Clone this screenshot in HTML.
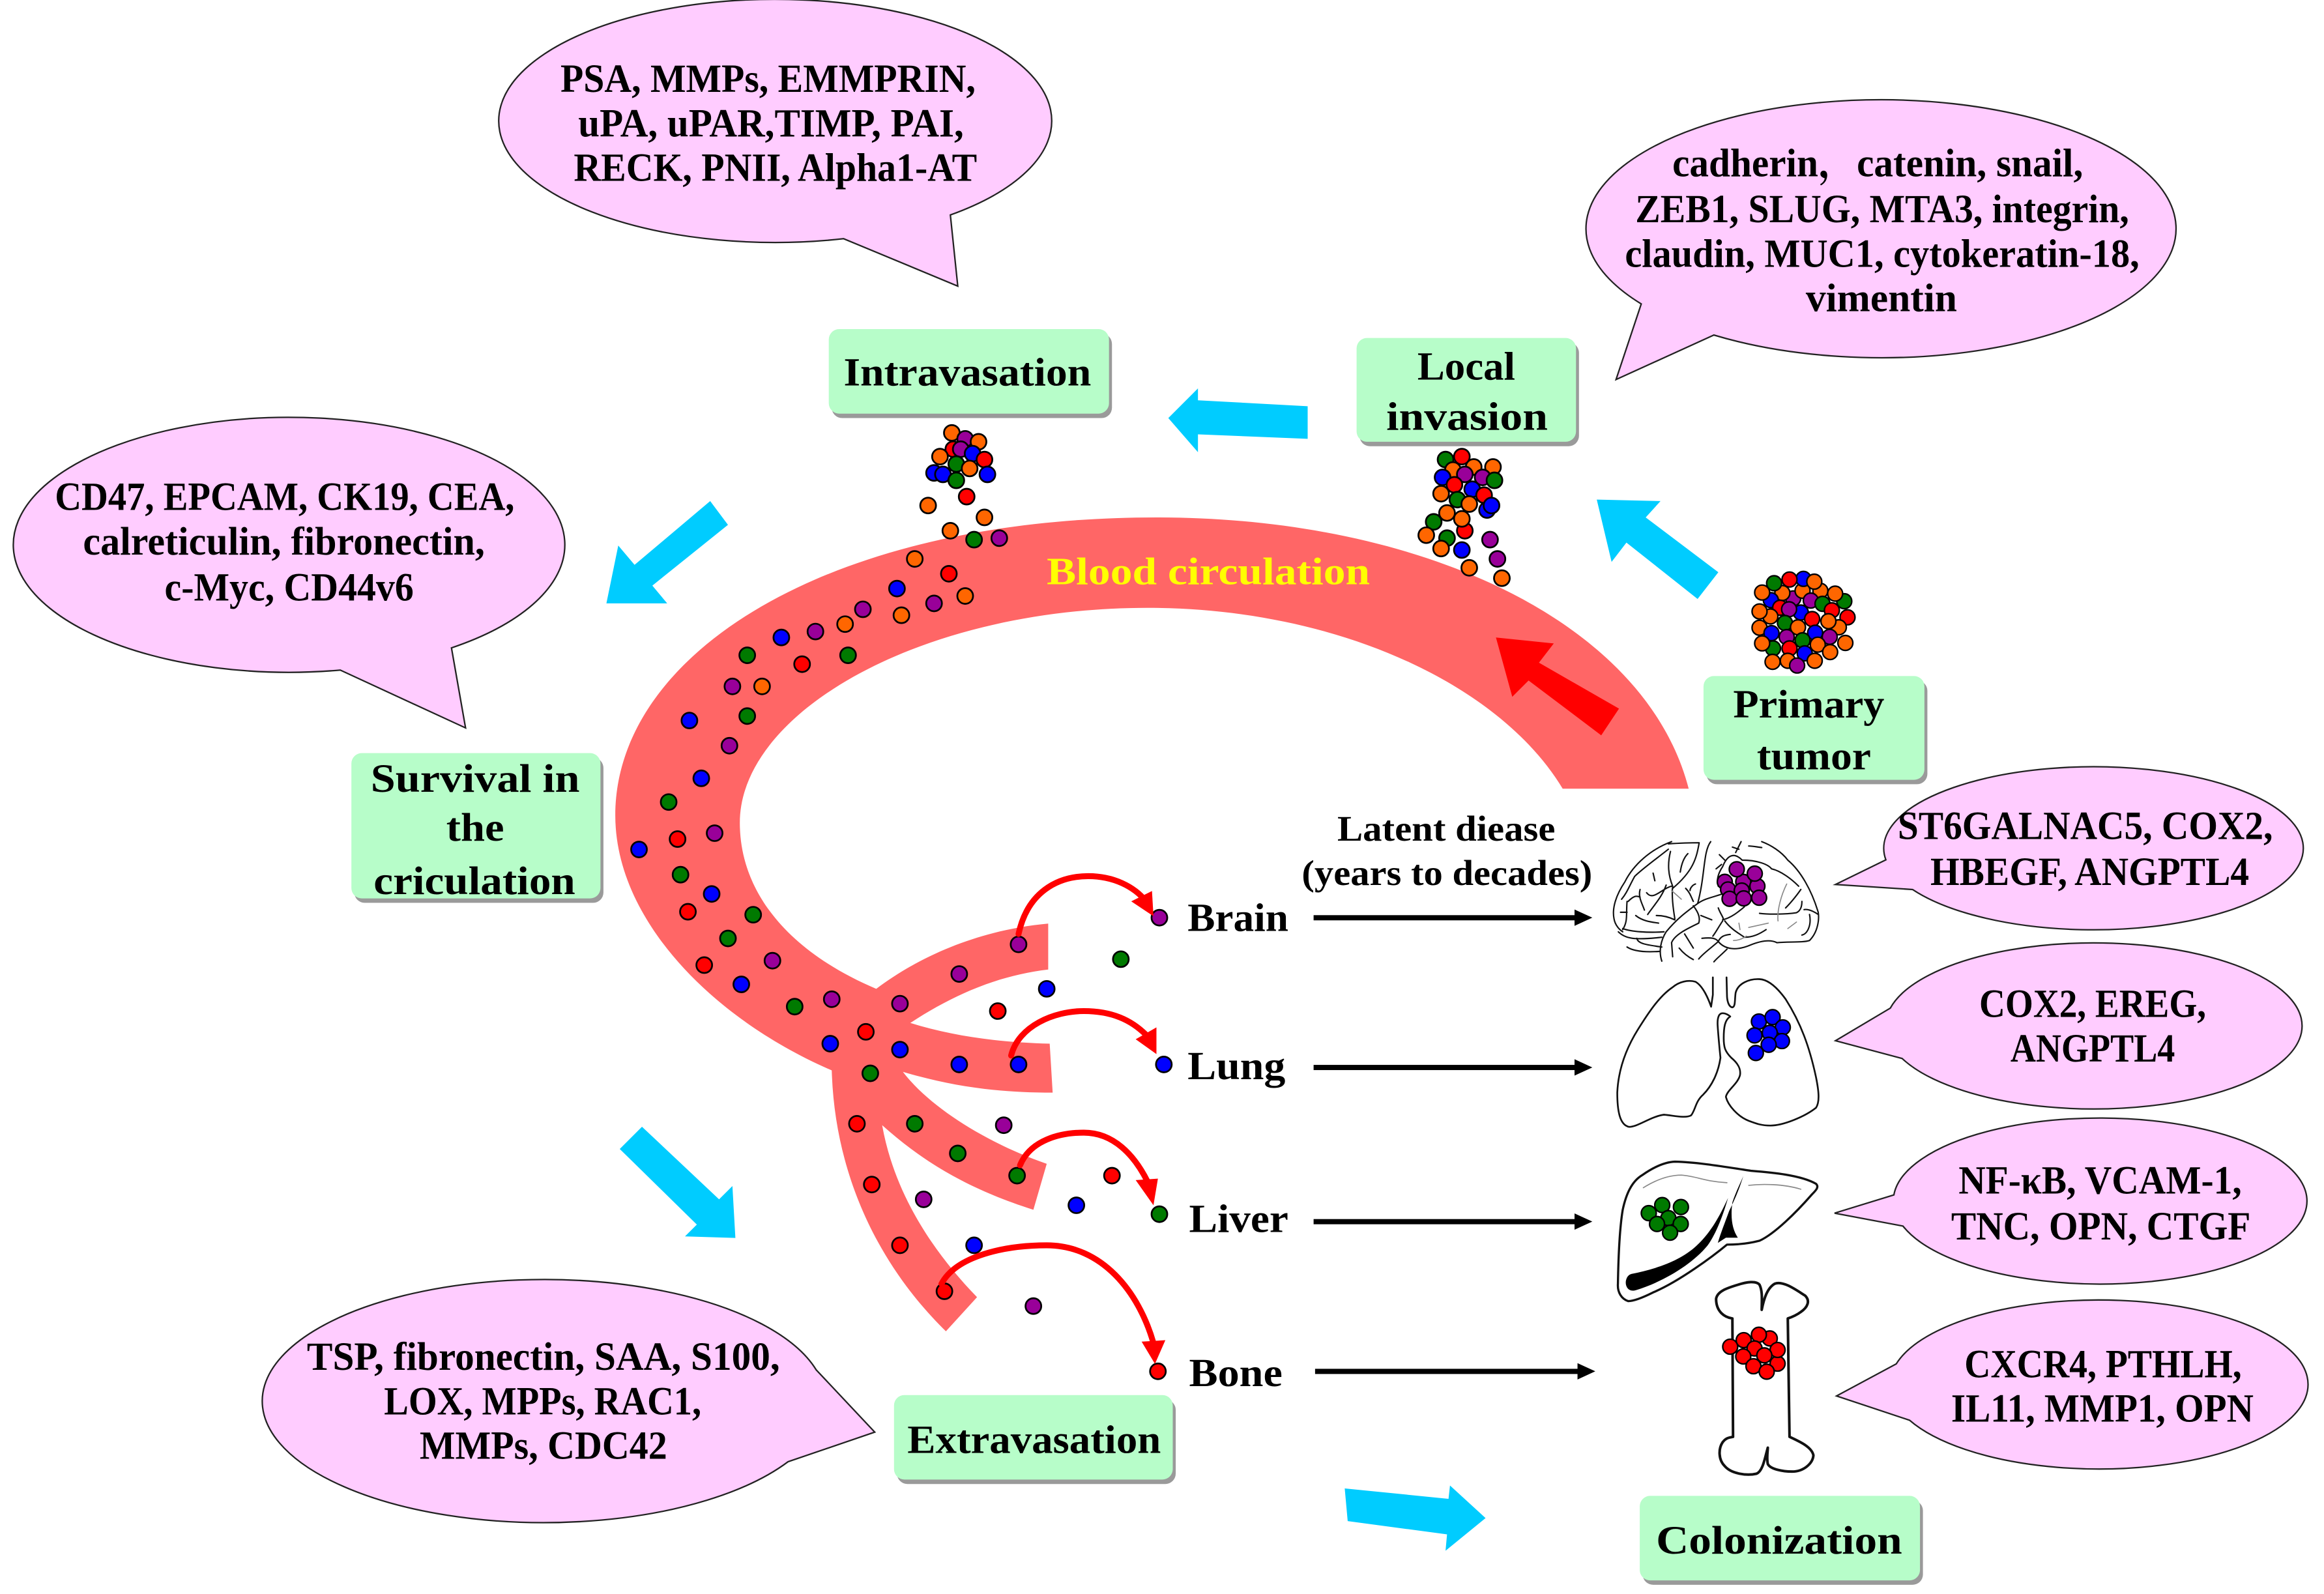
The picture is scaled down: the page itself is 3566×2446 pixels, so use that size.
<!DOCTYPE html>
<html><head><meta charset="utf-8"><title>Metastasis diagram</title>
<style>
html,body{margin:0;padding:0;background:#fff}
svg{display:block}
text{font-family:"Liberation Serif","Noto Serif CJK SC",serif;font-weight:bold;font-size:27px;fill:#000}
.b{fill:#ffccff;stroke:#222;stroke-width:1}
.g{fill:#b7fdc9}.s{fill:#9a9a9a}
.c{fill:#00ccff}
.d circle{stroke:#000;stroke-width:1.2}
.t circle,.k circle{stroke:#000;stroke-width:7px;r:34.5px}
.o{fill:#ff6600}.p{fill:#990099}.n{fill:#007a00}.u{fill:#0000ff}.r{fill:#ff0000}
.ln{fill:none;stroke:#111;stroke-width:6.5;stroke-linecap:round;stroke-linejoin:round}
.ol{fill:none;stroke:#111;stroke-width:8;stroke-linecap:round;stroke-linejoin:round}
.gy{fill:none;stroke:#888;stroke-width:5;stroke-linecap:round}
.ra{fill:none;stroke:#ff0000;stroke-width:4;stroke-linecap:round}
</style></head><body>
<svg width="3566" height="2446" viewBox="0 0 1567.5 1075.2" xmlns="http://www.w3.org/2000/svg">
<rect width="1567.5" height="1075.2" fill="#fff"/>

<!-- vessel -->
<path fill="#ff6666" d="M1139,532 C1110,420 960,349 780,349 C560,349 415,440 415,550 C415,620 480,687 561,722 C563,793 593,854 638,898 L659,875 C628,843 603,804 595,759 C623,784 653,802 697,816 L706,785 C668,772 628,748 609,723 C643,733 673,737 710,737 L708,704 C673,703 643,699 614,690 C643,671 673,658 707,654 L707,623 C663,627 623,643 591,667 C532,642 499,602 499,555 C499,480 622,410 774,410 C902,410 1012,462 1054,532 Z"/>
<polygon class="r" points="1009,430 1048,434 1038,447 1092,478 1080,496 1031,459 1020,470"/>
<text x="706" y="394" textLength="218" lengthAdjust="spacingAndGlyphs" style="fill:#ffff00;font-size:26px">Blood circulation</text>

<!-- bubbles -->
<path class="b" d="M569,161 A186.5,82 0 1 1 641,145 L646,193 Z"/>
<path class="b" d="M1107,205 A199,87 0 1 1 1156,226 L1090,256 Z"/>
<path class="b" d="M229.5,452 A186,86 0 1 1 304.5,437 L314,491 Z"/>
<path class="b" d="M531.5,986 A190,82 0 1 1 550.5,924 L590,966 Z"/>
<path class="b" d="M1272,580 A141.5,55 0 1 1 1290,600 L1238,596.6 Z"/>
<path class="b" d="M1275,680 A140.5,56 0 1 1 1283,714 L1238,702 Z"/>
<path class="b" d="M1277.4,806 A139.5,56 0 1 1 1283.5,827 L1237.4,818.3 Z"/>
<path class="b" d="M1279,920 A141,57 0 1 1 1288,958 L1238.7,941.6 Z"/>

<text x="378" y="62" textLength="280" lengthAdjust="spacingAndGlyphs">PSA, MMPs, EMMPRIN,</text>
<text x="390" y="92" textLength="260" lengthAdjust="spacingAndGlyphs">uPA, uPAR,TIMP, PAI,</text>
<text x="387" y="122" textLength="272" lengthAdjust="spacingAndGlyphs">RECK, PNII, Alpha1-AT</text>
<text x="1128" y="119" textLength="277" lengthAdjust="spacingAndGlyphs">cadherin，catenin, snail,</text>
<text x="1103" y="150" textLength="333" lengthAdjust="spacingAndGlyphs">ZEB1, SLUG, MTA3, integrin,</text>
<text x="1096" y="180" textLength="347" lengthAdjust="spacingAndGlyphs">claudin, MUC1, cytokeratin-18,</text>
<text x="1218" y="210" textLength="102" lengthAdjust="spacingAndGlyphs">vimentin</text>
<text x="37" y="344" textLength="310" lengthAdjust="spacingAndGlyphs">CD47, EPCAM, CK19, CEA,</text>
<text x="56" y="374" textLength="271" lengthAdjust="spacingAndGlyphs">calreticulin, fibronectin,</text>
<text x="111" y="405" textLength="168" lengthAdjust="spacingAndGlyphs">c-Myc, CD44v6</text>
<text x="207" y="924" textLength="319" lengthAdjust="spacingAndGlyphs">TSP, fibronectin, SAA, S100,</text>
<text x="259" y="954" textLength="214" lengthAdjust="spacingAndGlyphs">LOX, MPPs, RAC1,</text>
<text x="283" y="984" textLength="167" lengthAdjust="spacingAndGlyphs">MMPs, CDC42</text>
<text x="1280" y="566" textLength="253" lengthAdjust="spacingAndGlyphs">ST6GALNAC5, COX2,</text>
<text x="1302" y="597" textLength="215" lengthAdjust="spacingAndGlyphs">HBEGF, ANGPTL4</text>
<text x="1335" y="686" textLength="153" lengthAdjust="spacingAndGlyphs">COX2, EREG,</text>
<text x="1356" y="716" textLength="111" lengthAdjust="spacingAndGlyphs">ANGPTL4</text>
<text x="1321" y="805" textLength="191" lengthAdjust="spacingAndGlyphs">NF-κB, VCAM-1,</text>
<text x="1316" y="836" textLength="202" lengthAdjust="spacingAndGlyphs">TNC, OPN, CTGF</text>
<text x="1325" y="929" textLength="187" lengthAdjust="spacingAndGlyphs">CXCR4, PTHLH,</text>
<text x="1316" y="959" textLength="204" lengthAdjust="spacingAndGlyphs">IL11, MMP1, OPN</text>

<!-- green boxes -->
<rect class="s" x="561" y="225" width="189" height="57" rx="7"/><rect class="g" x="559" y="222" width="189" height="57" rx="7"/>
<rect class="s" x="917" y="231" width="148" height="70" rx="7"/><rect class="g" x="915" y="228" width="148" height="70" rx="7"/>
<rect class="s" x="1151" y="459" width="149" height="70" rx="7"/><rect class="g" x="1149" y="456" width="149" height="70" rx="7"/>
<rect class="s" x="239" y="511" width="168" height="98" rx="7"/><rect class="g" x="237" y="508" width="168" height="98" rx="7"/>
<rect class="s" x="605" y="944" width="188" height="57" rx="7"/><rect class="g" x="603" y="941" width="188" height="57" rx="7"/>
<rect class="s" x="1108" y="1012" width="189" height="57" rx="7"/><rect class="g" x="1106" y="1009" width="189" height="57" rx="7"/>
<text x="569" y="260" textLength="167" lengthAdjust="spacingAndGlyphs">Intravasation</text>
<text x="956" y="256" textLength="66" lengthAdjust="spacingAndGlyphs">Local</text>
<text x="935" y="290" textLength="109" lengthAdjust="spacingAndGlyphs">invasion</text>
<text x="1169" y="484" textLength="102" lengthAdjust="spacingAndGlyphs">Primary</text>
<text x="1185" y="519" textLength="77" lengthAdjust="spacingAndGlyphs">tumor</text>
<text x="250" y="534" textLength="141" lengthAdjust="spacingAndGlyphs">Survival in</text>
<text x="301" y="567" textLength="39" lengthAdjust="spacingAndGlyphs">the</text>
<text x="252" y="603" textLength="136" lengthAdjust="spacingAndGlyphs">criculation</text>
<text x="612" y="980" textLength="171" lengthAdjust="spacingAndGlyphs">Extravasation</text>
<text x="1117" y="1048" textLength="166" lengthAdjust="spacingAndGlyphs">Colonization</text>

<!-- cyan arrows -->
<polygon class="c" points="788,282 808,262 808,270 882,274 882,296 808,293 808,305"/>
<polygon class="c" points="1077,337 1120,338 1110,349 1159,386 1145,404 1097,366 1087,379"/>
<polygon class="c" points="409,407 417,368 428,381 479,338 491,354 440,395 450,407"/>
<polygon class="c" points="433,760 418,775 470,826 462,834 496,835 494,800 485,809"/>
<polygon class="c" points="907,1004 977,1011 978,1002 1002,1024 975,1046 976,1035 909,1026"/>

<!-- labels -->
<text x="801" y="628" textLength="68" lengthAdjust="spacingAndGlyphs">Brain</text>
<text x="801" y="728" textLength="66" lengthAdjust="spacingAndGlyphs">Lung</text>
<text x="802" y="831" textLength="67" lengthAdjust="spacingAndGlyphs">Liver</text>
<text x="802" y="935" textLength="63" lengthAdjust="spacingAndGlyphs">Bone</text>
<text x="902" y="567" textLength="147" lengthAdjust="spacingAndGlyphs" style="font-size:24px">Latent diease</text>
<text x="878" y="597" textLength="196" lengthAdjust="spacingAndGlyphs" style="font-size:24px">(years to decades)</text>

<!-- black arrows -->
<g fill="#000">
<rect x="886" y="617.3" width="178" height="3.5"/><polygon points="1062,613.5 1074,619 1062,624.5"/>
<rect x="886" y="718.3" width="178" height="3.5"/><polygon points="1062,714.5 1074,720 1062,725.5"/>
<rect x="886" y="822.3" width="178" height="3.5"/><polygon points="1062,818.5 1074,824 1062,829.5"/>
<rect x="887" y="923.3" width="178" height="3.5"/><polygon points="1064,919.5 1076,925 1064,930.5"/>
</g>

<!-- dots -->
<g class="d">
<circle class="o" cx="642" cy="292" r="5.3"/><circle class="p" cx="651" cy="296" r="5.3"/><circle class="o" cx="660" cy="298" r="5.3"/><circle class="r" cx="643" cy="303" r="5.3"/><circle class="p" cx="648" cy="303" r="5.3"/><circle class="u" cx="656" cy="306" r="5.3"/><circle class="o" cx="634" cy="308" r="5.3"/><circle class="r" cx="664" cy="310" r="5.3"/><circle class="n" cx="645" cy="313" r="5.3"/><circle class="o" cx="654" cy="316" r="5.3"/><circle class="u" cx="630" cy="319" r="5.3"/><circle class="u" cx="636" cy="320" r="5.3"/><circle class="u" cx="666" cy="320" r="5.3"/><circle class="n" cx="645" cy="324" r="5.3"/><circle class="r" cx="652" cy="335" r="5.3"/>
<circle class="o" cx="626" cy="341" r="5.3"/><circle class="o" cx="664" cy="349" r="5.3"/><circle class="o" cx="641" cy="358" r="5.3"/><circle class="n" cx="657" cy="364" r="5.3"/><circle class="p" cx="674" cy="363" r="5.3"/>
<circle class="o" cx="617" cy="377" r="5.3"/><circle class="r" cx="640" cy="387" r="5.3"/><circle class="u" cx="605" cy="397" r="5.3"/><circle class="o" cx="651" cy="402" r="5.3"/><circle class="p" cx="630" cy="407" r="5.3"/><circle class="o" cx="608" cy="415" r="5.3"/><circle class="p" cx="582" cy="411" r="5.3"/><circle class="o" cx="570" cy="421" r="5.3"/><circle class="p" cx="550" cy="426" r="5.3"/><circle class="u" cx="527" cy="430" r="5.3"/><circle class="n" cx="572" cy="442" r="5.3"/><circle class="r" cx="541" cy="448" r="5.3"/>

<circle class="n" cx="975" cy="310" r="5.3"/><circle class="r" cx="986" cy="308" r="5.3"/><circle class="o" cx="980" cy="317" r="5.3"/><circle class="o" cx="994" cy="315" r="5.3"/><circle class="o" cx="1007" cy="315" r="5.3"/><circle class="u" cx="973" cy="322" r="5.3"/><circle class="p" cx="988" cy="320" r="5.3"/><circle class="p" cx="1000" cy="322" r="5.3"/><circle class="n" cx="1008" cy="324" r="5.3"/><circle class="r" cx="981" cy="327" r="5.3"/><circle class="u" cx="993" cy="330" r="5.3"/><circle class="o" cx="972" cy="333" r="5.3"/><circle class="r" cx="1001" cy="334" r="5.3"/><circle class="n" cx="983" cy="337" r="5.3"/><circle class="o" cx="991" cy="340" r="5.3"/><circle class="u" cx="1003" cy="344" r="5.3"/><circle class="u" cx="1006" cy="341" r="5.3"/><circle class="o" cx="976" cy="346" r="5.3"/><circle class="r" cx="988" cy="358" r="5.3"/><circle class="n" cx="967" cy="352" r="5.3"/><circle class="o" cx="986" cy="350" r="5.3"/><circle class="n" cx="976" cy="363" r="5.3"/><circle class="o" cx="962" cy="361" r="5.3"/><circle class="o" cx="972" cy="370" r="5.3"/><circle class="u" cx="986" cy="371" r="5.3"/><circle class="p" cx="1005" cy="364" r="5.3"/><circle class="p" cx="1010" cy="377" r="5.3"/><circle class="o" cx="991" cy="383" r="5.3"/><circle class="o" cx="1013" cy="390" r="5.3"/>

<circle class="n" cx="504" cy="442" r="5.3"/><circle class="p" cx="494" cy="463" r="5.3"/><circle class="o" cx="514" cy="463" r="5.3"/><circle class="u" cx="465" cy="486" r="5.3"/><circle class="n" cx="504" cy="483" r="5.3"/><circle class="p" cx="492" cy="503" r="5.3"/><circle class="u" cx="473" cy="525" r="5.3"/><circle class="n" cx="451" cy="541" r="5.3"/><circle class="p" cx="482" cy="562" r="5.3"/><circle class="r" cx="457" cy="566" r="5.3"/><circle class="u" cx="431" cy="573" r="5.3"/><circle class="n" cx="459" cy="590" r="5.3"/><circle class="u" cx="480" cy="603" r="5.3"/><circle class="r" cx="464" cy="615" r="5.3"/><circle class="n" cx="508" cy="617" r="5.3"/><circle class="n" cx="491" cy="633" r="5.3"/><circle class="p" cx="521" cy="648" r="5.3"/><circle class="r" cx="475" cy="651" r="5.3"/><circle class="u" cx="500" cy="664" r="5.3"/><circle class="n" cx="536" cy="679" r="5.3"/><circle class="p" cx="561" cy="674" r="5.3"/><circle class="p" cx="607" cy="677" r="5.3"/><circle class="r" cx="584" cy="696" r="5.3"/><circle class="u" cx="560" cy="704" r="5.3"/><circle class="u" cx="607" cy="708" r="5.3"/><circle class="n" cx="587" cy="724" r="5.3"/><circle class="u" cx="647" cy="718" r="5.3"/><circle class="u" cx="687" cy="718" r="5.3"/><circle class="u" cx="785" cy="718" r="5.3"/>
<circle class="p" cx="647" cy="657" r="5.3"/><circle class="p" cx="687" cy="637" r="5.3"/><circle class="p" cx="782" cy="619" r="5.3"/><circle class="n" cx="756" cy="647" r="5.3"/><circle class="u" cx="706" cy="667" r="5.3"/><circle class="r" cx="673" cy="682" r="5.3"/><circle class="p" cx="677" cy="759" r="5.3"/><circle class="r" cx="578" cy="758" r="5.3"/><circle class="n" cx="617" cy="758" r="5.3"/><circle class="n" cx="646" cy="778" r="5.3"/><circle class="n" cx="686" cy="793" r="5.3"/><circle class="r" cx="750" cy="793" r="5.3"/><circle class="n" cx="782" cy="819" r="5.3"/><circle class="u" cx="726" cy="813" r="5.3"/><circle class="p" cx="623" cy="809" r="5.3"/><circle class="r" cx="588" cy="799" r="5.3"/><circle class="r" cx="607" cy="840" r="5.3"/><circle class="u" cx="657" cy="840" r="5.3"/><circle class="r" cx="637" cy="871" r="5.3"/><circle class="p" cx="697" cy="881" r="5.3"/><circle class="r" cx="781" cy="925" r="5.3"/>
</g>

<!-- red curved arrows -->
<path class="ra" d="M687,630 C693,602 713,591 734,591 C751,591 765,598 773,608"/>
<polygon class="r" points="778,618 777,601 763,608"/>
<path class="ra" d="M682,712 C687,692 711,682 731,682 C750,682 763,688 773,698"/>
<polygon class="r" points="780,711 780,693 766,701"/>
<path class="ra" d="M688,786 C695,769 715,764 731,764 C751,764 765,779 774,797"/>
<polygon class="r" points="778,813 781,795 766,796"/>
<path class="ra" d="M635,866 C645,847 678,840 706,840 C743,840 768,871 778,906"/>
<polygon class="r" points="779,920 786,904 770,905"/>

<!-- primary tumor -->
<g class="t" transform="translate(1178,378) scale(.14652)">
<circle class="p" cx="215" cy="175" r="33"/><circle class="o" cx="340" cy="140" r="33"/><circle class="n" cx="450" cy="188" r="33"/><circle class="o" cx="165" cy="150" r="33"/><circle class="o" cx="258" cy="140" r="33"/><circle class="u" cx="262" cy="85" r="33"/><circle class="u" cx="112" cy="183" r="33"/><circle class="n" cx="127" cy="105" r="33"/><circle class="r" cx="198" cy="88" r="33"/><circle class="o" cx="312" cy="98" r="33"/><circle class="o" cx="72" cy="148" r="33"/><circle class="o" cx="408" cy="153" r="33"/><circle class="p" cx="296" cy="185" r="33"/><circle class="n" cx="350" cy="200" r="33"/><circle class="r" cx="155" cy="218" r="33"/><circle class="o" cx="110" cy="258" r="33"/><circle class="o" cx="60" cy="235" r="33"/><circle class="u" cx="250" cy="240" r="33"/><circle class="p" cx="196" cy="225" r="33"/><circle class="r" cx="393" cy="230" r="33"/><circle class="r" cx="465" cy="262" r="33"/><circle class="o" cx="425" cy="308" r="33"/><circle class="o" cx="377" cy="280" r="33"/><circle class="n" cx="177" cy="288" r="33"/><circle class="r" cx="302" cy="270" r="33"/><circle class="o" cx="60" cy="310" r="33"/><circle class="o" cx="237" cy="308" r="33"/><circle class="u" cx="115" cy="335" r="33"/><circle class="u" cx="316" cy="333" r="33"/><circle class="p" cx="383" cy="352" r="33"/><circle class="p" cx="185" cy="353" r="33"/><circle class="n" cx="258" cy="368" r="33"/><circle class="n" cx="122" cy="405" r="33"/><circle class="o" cx="72" cy="382" r="33"/><circle class="o" cx="455" cy="380" r="33"/><circle class="r" cx="198" cy="405" r="33"/><circle class="o" cx="328" cy="388" r="33"/><circle class="o" cx="385" cy="422" r="33"/><circle class="u" cx="268" cy="428" r="33"/><circle class="o" cx="190" cy="462" r="33"/><circle class="o" cx="120" cy="467" r="33"/><circle class="o" cx="314" cy="462" r="33"/><circle class="p" cx="233" cy="484" r="33"/>
</g>

<!-- brain -->
<g transform="translate(1085.7,558.2) scale(.14652)">
<path class="ln" d="M285,65 C190,100 110,170 70,250 C30,310 10,370 20,420 C25,450 45,470 60,480 M270,100 C220,140 150,190 115,225 C90,270 80,300 55,330 M270,75 C320,72 370,70 412,70 C400,140 385,200 290,280 M280,110 C265,170 270,220 290,270 C285,310 290,360 300,420 M360,120 C340,140 330,170 325,205 M465,65 C430,110 440,220 405,350 M60,465 C100,480 180,485 250,480 M40,480 C70,510 110,520 240,505 M125,510 C130,535 170,540 240,550 M80,550 C110,570 160,575 230,570 M405,350 C350,390 310,420 260,480 C235,520 225,570 240,615 M385,360 C400,380 420,410 410,440 C370,460 300,490 285,530 L290,595 M405,350 C440,325 480,320 520,305 M500,370 C510,400 530,420 520,425 C560,415 590,390 620,365 M530,430 C560,470 600,490 620,505 C660,505 690,490 720,470 M520,430 C500,460 490,480 475,500 M425,510 C470,505 490,510 500,525 C530,560 580,570 650,540 C700,520 740,515 770,530 C830,525 890,530 920,520 C960,480 965,420 960,390 C930,290 880,200 820,150 C790,110 740,80 700,65 M500,525 C460,560 430,580 410,605 M540,560 C510,590 495,600 480,618 M500,525 C510,500 530,495 555,492 M690,395 C730,400 810,400 860,392 C885,380 885,350 885,340 M810,370 C840,340 870,300 880,285 M610,150 C680,150 730,170 745,190 C790,200 840,240 870,270 M610,150 C570,110 540,130 520,180 C500,210 490,240 500,270 M580,115 L605,65 M565,90 L595,100 M505,125 L530,150 M490,190 L515,170 M640,85 C660,85 680,90 700,92 M285,270 C240,280 200,340 170,300 M140,285 C130,320 150,350 160,380 M260,265 C240,320 210,350 175,400 M215,405 C250,405 280,415 300,425 M120,405 C150,430 190,435 225,440 M85,340 C115,310 125,315 140,320 M80,340 C75,400 85,430 60,470 M50,390 L80,390 M350,280 C370,300 375,320 385,340 M395,260 C380,265 370,280 370,290 M345,490 L385,555 M320,555 C340,580 360,595 385,608 M420,405 L470,425 M885,495 C910,490 930,450 920,400 M895,378 C910,375 930,380 960,400 M200,210 L208,245"/>
<path class="gy" d="M570,520 C600,520 620,505 630,500 M815,260 C790,310 770,380 775,430 M640,460 L730,440 M595,440 L600,470 M820,465 L860,435 M285,290 L330,330"/>
<g class="k p">
<circle cx="530" cy="250" r="33"/><circle cx="615" cy="250" r="33"/><circle cx="680" cy="270" r="33"/><circle cx="545" cy="285" r="33"/><circle cx="608" cy="290" r="33"/><circle cx="585" cy="192" r="33"/><circle cx="668" cy="212" r="33"/><circle cx="552" cy="328" r="33"/><circle cx="617" cy="326" r="33"/><circle cx="688" cy="323" r="33"/>
</g>
</g>

<!-- lungs -->
<g transform="translate(1085.7,654.9) scale(.14652)">
<path class="ol" d="M475,30 L475,110 L467,165 C455,130 430,70 395,50 C360,40 320,50 290,75 C230,115 180,190 130,270 C80,350 40,450 35,560 C35,640 45,710 90,718 C130,718 190,670 250,662 C290,665 350,680 375,665 C395,640 395,600 430,570 C470,530 500,470 510,400 C505,350 500,300 497,250 C495,210 505,195 520,195 C535,195 550,205 555,210 C530,225 525,260 525,310 C525,350 530,370 560,400 C590,425 605,450 600,480 C590,520 540,550 535,580 C545,620 590,670 640,690 C680,705 700,712 740,712 C800,712 900,670 950,630 C970,600 960,540 950,490 C920,350 880,240 810,130 C770,75 730,40 690,38 C640,35 590,60 580,100 C575,130 580,165 565,168 C545,165 540,130 540,110 L538,30"/>
<g class="k u">
<circle cx="687" cy="233" r="32"/><circle cx="750" cy="213" r="32"/><circle cx="797" cy="260" r="32"/><circle cx="737" cy="285" r="32"/><circle cx="667" cy="297" r="32"/><circle cx="793" cy="323" r="32"/><circle cx="732" cy="340" r="32"/><circle cx="673" cy="378" r="32"/>
</g>
</g>

<!-- liver -->
<g transform="translate(1085.7,778) scale(.14652)">
<path class="ol" style="stroke-width:10" d="M300,38 C400,40 520,60 650,80 C750,88 880,100 950,140 C965,155 950,170 930,190 C860,270 760,370 690,402 C640,415 590,420 540,420 C480,470 320,590 200,640 C150,665 110,680 85,680 C55,670 35,640 38,600 C40,480 45,350 60,260 C75,190 100,130 150,100 C200,65 250,40 300,38 Z"/>
<path fill="#000" d="M100,555 C200,535 320,500 400,425 C470,360 510,280 545,205 C520,290 490,370 450,425 C380,510 250,590 120,630 C85,640 70,610 75,585 C80,565 90,558 100,555 Z"/>
<path fill="#000" d="M615,105 C595,170 570,225 550,265 C530,320 510,370 498,412 L535,388 L590,388 C565,350 555,300 565,225 C580,180 600,140 615,105 Z"/>
<path class="gy" d="M155,158 C200,130 260,100 330,100 C400,105 440,130 540,135 M640,147 C700,140 800,140 880,165"/>
<g class="k n">
<circle cx="180" cy="275" r="32"/><circle cx="242" cy="238" r="32"/><circle cx="328" cy="247" r="32"/><circle cx="270" cy="298" r="32"/><circle cx="218" cy="325" r="32"/><circle cx="327" cy="325" r="32"/><circle cx="278" cy="365" r="32"/>
</g>
</g>

<!-- bone -->
<g transform="translate(1076.9,857.1) scale(.14652)">
<path class="ol" style="stroke-width:12" d="M625,220 C590,215 550,190 550,130 C555,95 600,80 650,65 C690,52 735,45 750,65 C765,95 760,140 760,180 C770,130 785,80 820,60 C860,45 920,90 960,115 C985,140 970,170 940,190 C920,205 895,215 880,220 L888,765 C930,785 990,810 998,850 C995,890 950,925 900,925 C860,925 800,915 788,890 C782,860 788,830 788,815 C775,860 765,925 735,935 C690,945 620,935 590,900 C560,870 560,820 580,790 C595,770 610,768 628,765 Z"/>
<g class="k r">
<circle cx="797" cy="312" r="32"/><circle cx="833" cy="428" r="32"/><circle cx="833" cy="365" r="32"/><circle cx="615" cy="350" r="32"/><circle cx="677" cy="320" r="32"/><circle cx="747" cy="295" r="32"/><circle cx="727" cy="358" r="32"/><circle cx="772" cy="390" r="32"/><circle cx="675" cy="395" r="32"/><circle cx="722" cy="440" r="32"/><circle cx="783" cy="465" r="32"/>
</g>
</g>
</svg>
</body></html>
